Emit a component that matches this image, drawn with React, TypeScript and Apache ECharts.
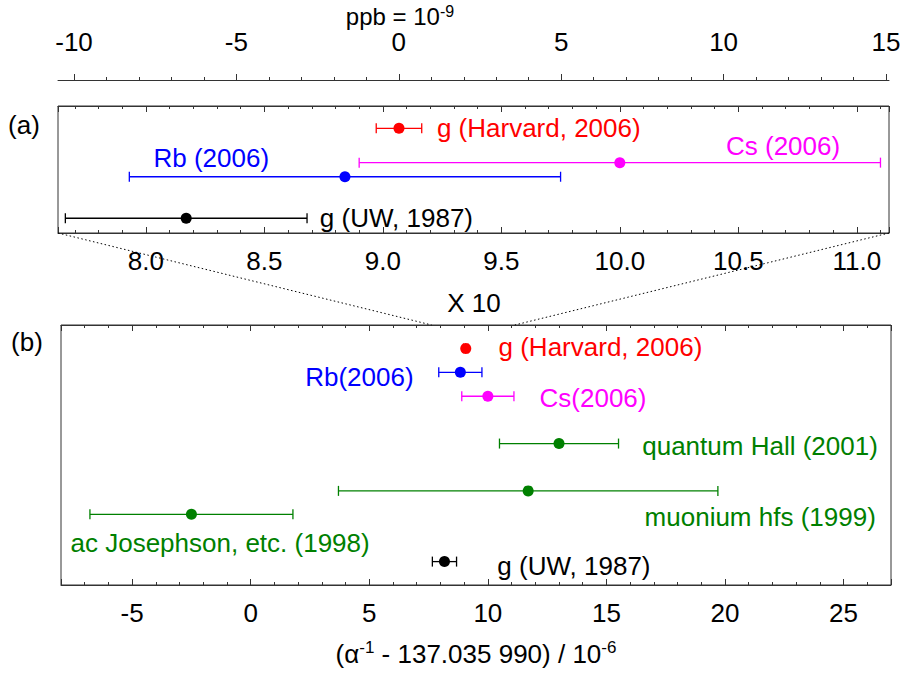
import React, { useEffect, useRef } from 'react';
import * as echarts from 'echarts';

const FONT = "'Liberation Sans', Arial, Helvetica, sans-serif";
const AXIS_COLOR = '#333';

// Values: (alpha^-1 - 137.035 990) / 10^-6
// Panel (a) – zoomed (x10) view
const aNames = ['g (Harvard, 2006)', 'Cs (2006)', 'Rb (2006)', 'g (UW, 1987)'];
const aCenter = [9.068, 10.0, 8.84, 8.17];
const aError = [0.096, 1.1, 0.91, 0.51];
const aRow = [8.24, 5.54, 4.43, 1.16];
const aColors = ['#ff0000', '#ff00ff', '#0000ff', '#000000'];
// label anchors (data units) and alignment
const aLabelX = [9.228, 10.689, 8.276, 8.734];
const aLabelY = [8.24, 6.85, 5.87, 1.16];
const aLabelAlign = ['left', 'center', 'center', 'left'];

// Panel (b) – full view
const bNames = [
  'g (Harvard, 2006)',
  'Rb(2006)',
  'Cs(2006)',
  'quantum Hall (2001)',
  'muonium hfs (1999)',
  'ac Josephson, etc. (1998)',
  'g (UW, 1987)',
];
const bCenter = [9.068, 8.84, 10.0, 13.0, 11.7, -2.5, 8.17];
const bError = [0.096, 0.91, 1.1, 2.51, 8.0, 4.28, 0.51];
const bRow = [9.1, 8.18, 7.26, 5.44, 3.62, 2.72, 0.9];
const bColors = ['#ff0000', '#0000ff', '#ff00ff', '#008000', '#008000', '#008000', '#000000'];
const bLabelX = [10.45, 6.87, 12.18, 16.51, 26.36, -7.6, 10.4];
const bLabelY = [9.15, 8.01, 7.18, 5.35, 2.63, 1.6, 0.73];
const bLabelAlign = ['left', 'right', 'left', 'left', 'right', 'left', 'left'];

// axis ranges
const A_MIN = 7.629;
const A_MAX = 11.136;
const B_MIN = -8;
const B_MAX = 27;
const PPB_MIN = -10;
const PPB_MAX = 15;
const PPB_TICKS = 5;

function errorBarSeries(xAxisIndex: number, yAxisIndex: number, center: number[], err: number[], rows: number[], colors: string[]) {
  return {
    type: 'custom',
    xAxisIndex,
    yAxisIndex,
    encode: { x: [0, 1], y: 2 },
    data: center.map((c, i) => [c - err[i], c + err[i], rows[i]]),
    renderItem: (params: any, api: any) => {
      const lo = api.coord([api.value(0), api.value(2)]);
      const hi = api.coord([api.value(1), api.value(2)]);
      const h = 5;
      const style = { stroke: colors[params.dataIndex], lineWidth: 1.3 };
      return {
        type: 'group',
        children: [
          { type: 'line', shape: { x1: lo[0], y1: lo[1], x2: hi[0], y2: hi[1] }, style },
          { type: 'line', shape: { x1: lo[0], y1: lo[1] - h, x2: lo[0], y2: lo[1] + h }, style },
          { type: 'line', shape: { x1: hi[0], y1: hi[1] - h, x2: hi[0], y2: hi[1] + h }, style },
        ],
      };
    },
    z: 2,
  };
}

function pointSeries(xAxisIndex: number, yAxisIndex: number, center: number[], rows: number[], colors: string[]) {
  return {
    type: 'scatter',
    xAxisIndex,
    yAxisIndex,
    symbol: 'circle',
    symbolSize: 11,
    itemStyle: { opacity: 1 },
    data: center.map((c, i) => ({ value: [c, rows[i]], itemStyle: { color: colors[i], opacity: 1 } })),
    z: 3,
  };
}

const posMap: Record<string, string> = { left: 'right', right: 'left', center: 'inside' };

function labelSeries(xAxisIndex: number, yAxisIndex: number, names: string[], lx: number[], ly: number[], align: string[], colors: string[]) {
  return {
    type: 'scatter',
    xAxisIndex,
    yAxisIndex,
    symbolSize: 0,
    silent: true,
    itemStyle: { opacity: 1 },
    data: names.map((n, i) => ({
      value: [lx[i], ly[i]],
      name: n,
      itemStyle: { opacity: 1, color: colors[i] },
      label: {
        show: true,
        position: posMap[align[i]],
        distance: 0,
        formatter: n,
        color: colors[i],
        opacity: 1,
        fontSize: 26,
        fontFamily: FONT,
      },
    })),
    z: 4,
  };
}

const tickLine = { color: AXIS_COLOR, width: 1 };

function boxAxis(gridIndex: number, position: string, min: number, max: number, step: number, showLabels: boolean, margin: number, fmt: (v: number) => string) {
  return {
    type: 'value',
    gridIndex,
    position,
    min,
    max,
    minInterval: step,
    maxInterval: step,
    axisLine: { show: true, lineStyle: { color: AXIS_COLOR, width: 1 } },
    axisTick: { show: true, inside: true, length: 6, lineStyle: tickLine },
    minorTick: { show: true, splitNumber: 5, length: 3, lineStyle: tickLine },
    splitLine: { show: false },
    minorSplitLine: { show: false },
    axisLabel: {
      show: showLabels,
      margin,
      fontSize: 26,
      fontFamily: FONT,
      color: '#000',
      showMinLabel: false,
      showMaxLabel: false,
      formatter: fmt,
    },
  };
}

export default function App() {
  const ref = useRef<HTMLDivElement>(null);

  useEffect(() => {
    const chart = echarts.init(ref.current!, null, { renderer: 'svg' });
    const fmt1 = (v: number) => v.toFixed(1);
    const fmt0 = (v: number) => String(Math.round(v));

    const option: any = {
      animation: false,
      backgroundColor: '#fff',
      textStyle: { fontFamily: FONT },
      grid: [
        { left: 58, right: 15, top: 106, height: 127, show: true, borderColor: AXIS_COLOR, borderWidth: 1, backgroundColor: 'transparent' },
        { left: 61, right: 13, top: 325, height: 260, show: true, borderColor: AXIS_COLOR, borderWidth: 1, backgroundColor: 'transparent' },
        { left: 74, right: 18, top: 80, height: 1, show: false },
      ],
      xAxis: [
        boxAxis(0, 'bottom', A_MIN, A_MAX, 0.5, true, 15, fmt1),
        boxAxis(0, 'top', A_MIN, A_MAX, 0.5, false, 8, fmt1),
        {
          type: 'value', gridIndex: 0, position: 'top', offset: 26, min: A_MIN, max: A_MAX,
          axisLine: { show: true, lineStyle: { color: AXIS_COLOR, width: 1 } },
          axisTick: { show: false }, minorTick: { show: false }, axisLabel: { show: false }, splitLine: { show: false },
        },
        boxAxis(1, 'bottom', B_MIN, B_MAX, 5, true, 15, fmt0),
        boxAxis(1, 'top', B_MIN, B_MAX, 5, false, 8, fmt0),
        {
          type: 'value', gridIndex: 2, position: 'top', min: PPB_MIN, max: PPB_MAX, interval: PPB_TICKS,
          axisLine: { show: false },
          axisTick: { show: true, inside: false, length: 7, lineStyle: tickLine },
          minorTick: { show: true, splitNumber: 5, length: 4, lineStyle: tickLine },
          splitLine: { show: false },
          axisLabel: { show: true, margin: 27, lineHeight: 22, fontSize: 26, fontFamily: FONT, color: '#000', formatter: fmt0 },
        },
      ],
      yAxis: [
        { type: 'value', gridIndex: 0, min: 0, max: 10, show: false },
        { type: 'value', gridIndex: 1, min: 0, max: 10, show: false },
        { type: 'value', gridIndex: 2, min: 0, max: 1, show: false },
      ],
      series: [
        errorBarSeries(0, 0, aCenter, aError, aRow, aColors),
        pointSeries(0, 0, aCenter, aRow, aColors),
        labelSeries(0, 0, aNames, aLabelX, aLabelY, aLabelAlign, aColors),
        errorBarSeries(3, 1, bCenter, bError, bRow, bColors),
        pointSeries(3, 1, bCenter, bRow, bColors),
        labelSeries(3, 1, bNames, bLabelX, bLabelY, bLabelAlign, bColors),
      ],
    };
    chart.setOption(option);

    // zoom connector lines: corners of panel (a) to the matching range on panel (b)
    const aBL = chart.convertToPixel({ xAxisIndex: 0, yAxisIndex: 0 }, [A_MIN, 0]) as number[];
    const aBR = chart.convertToPixel({ xAxisIndex: 0, yAxisIndex: 0 }, [A_MAX, 0]) as number[];
    const bTL = chart.convertToPixel({ xAxisIndex: 3, yAxisIndex: 1 }, [A_MIN, 10]) as number[];
    const bTR = chart.convertToPixel({ xAxisIndex: 3, yAxisIndex: 1 }, [A_MAX, 10]) as number[];
    const dotted = { stroke: '#000', lineWidth: 1, lineDash: [1.5, 2.5] };
    const titleRich = {
      n: { fontSize: 24, lineHeight: 26, fontFamily: FONT, color: '#000' },
      s: { fontSize: 16, lineHeight: 11, verticalAlign: 'top', fontFamily: FONT, color: '#000' },
    };
    const nameRich = {
      n: { fontSize: 26, lineHeight: 30, fontFamily: FONT, color: '#000' },
      s: { fontSize: 17, lineHeight: 14, verticalAlign: 'top', fontFamily: FONT, color: '#000' },
    };

    chart.setOption({
      graphic: [
        { type: 'line', shape: { x1: aBL[0], y1: aBL[1], x2: bTL[0], y2: bTL[1] }, style: dotted, z: 1 },
        { type: 'line', shape: { x1: aBR[0], y1: aBR[1], x2: bTR[0], y2: bTR[1] }, style: dotted, z: 1 },
        {
          type: 'text', x: 400, y: 16,
          style: { text: '{n|ppb = 10}{s|-9}', rich: titleRich, align: 'center', verticalAlign: 'middle' },
        },
        { type: 'text', x: 24, y: 125, style: { text: '(a)', fontSize: 26, fontFamily: FONT, fill: '#000', align: 'center', verticalAlign: 'middle' } },
        { type: 'text', x: 27, y: 342, style: { text: '(b)', fontSize: 26, fontFamily: FONT, fill: '#000', align: 'center', verticalAlign: 'middle' } },
        { type: 'text', x: 474, y: 303, style: { text: 'X 10', fontSize: 26, fontFamily: FONT, fill: '#000', align: 'center', verticalAlign: 'middle' } },
        {
          type: 'text', x: 476, y: 654,
          style: { text: '{n|(\u03b1}{s|-1}{n| - 137.035 990) / 10}{s|-6}', rich: nameRich, align: 'center', verticalAlign: 'middle' },
        },
      ],
    });

    return () => chart.dispose();
  }, []);

  return <div ref={ref} style={{ position: 'absolute', left: 0, top: 0, width: 904, height: 674 }} />;
}
